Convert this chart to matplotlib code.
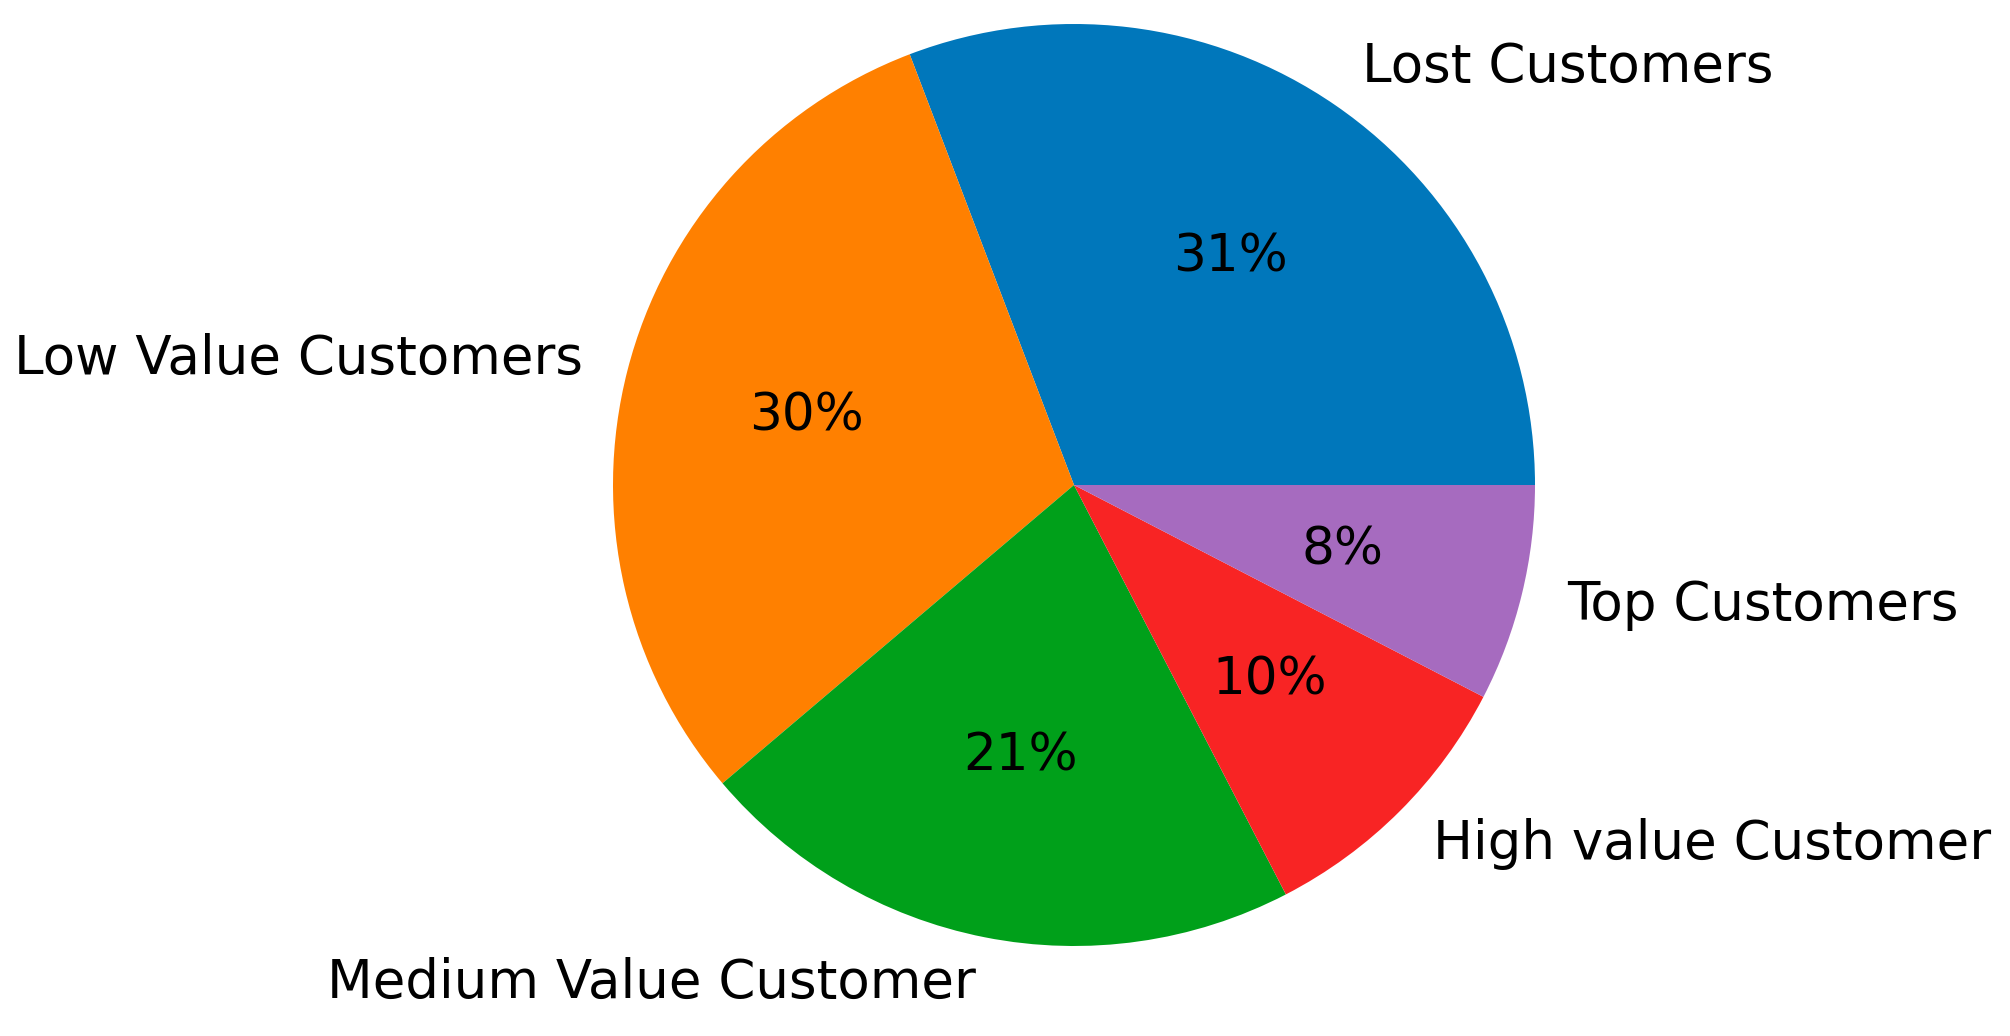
import matplotlib
matplotlib.use("Agg")
import matplotlib.pyplot as plt

# Customer segments (share of customers)
segments = ["Lost Customers", "Low Value Customers", "Medium Value Customer",
            "High value Customer", "Top Customers"]
shares = [30.8, 30.4, 21.4, 9.8, 7.6]
colors = ["#0077bb", "#ff8000", "#00a01a", "#f82424", "#a66bbf"]

fig = plt.figure(figsize=(20.1, 10.36), dpi=100)
# pie box: centre (1074, 485) px, radius ~461 px
ax = fig.add_axes([613 / 2010, 90 / 1036, 922 / 2010, 922 / 1036])

wedges, texts, autotexts = ax.pie(shares, labels=segments, colors=colors,
                                  autopct="%1.0f%%", startangle=0)
for t in texts:
    t.set_fontsize(38.2)
for t in autotexts:
    t.set_fontsize(37.2)

ax.set_xlim(-1, 1)
ax.set_ylim(-1, 1)
ax.set_aspect("equal")

fig.savefig("out.png", dpi=100)
